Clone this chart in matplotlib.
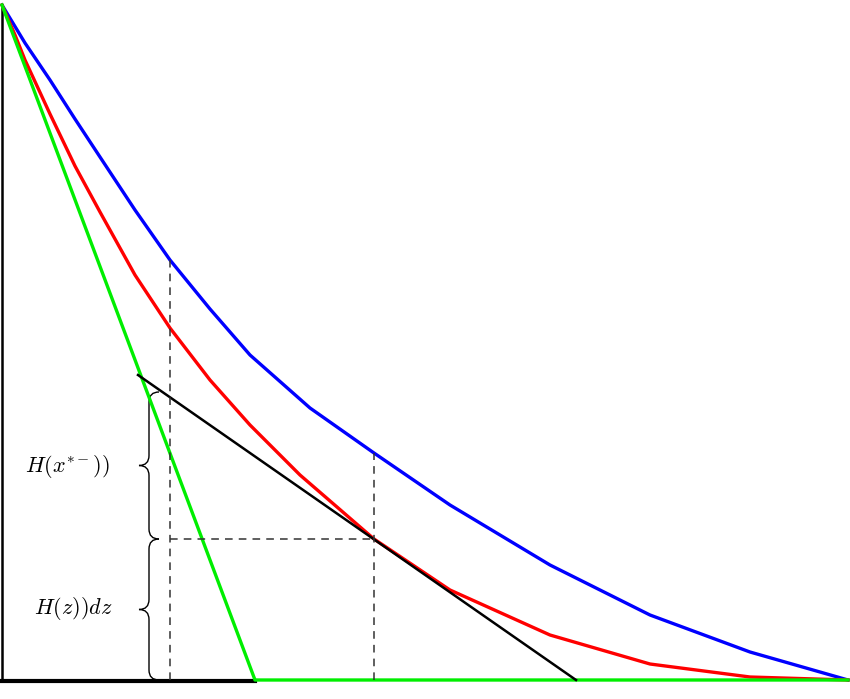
import matplotlib
matplotlib.use("Agg")
import matplotlib.pyplot as plt
from matplotlib.path import Path
from matplotlib.patches import PathPatch

plt.rcParams['mathtext.fontset'] = 'cm'

blue_x = [2, 25, 50, 75, 100, 135, 170, 210, 250, 310, 374, 450, 550, 650, 750, 848]
blue_y = [5, 43, 80, 119, 157, 210, 260, 309, 355, 408, 453, 505, 565, 615, 652, 680]
red_x = [2, 15, 25, 50, 75, 100, 135, 170, 210, 250, 300, 374, 450, 550, 650, 750, 848]
red_y = [5, 35, 60, 114, 166, 212, 275, 328, 380, 425, 475, 539, 590, 635, 664, 677, 680]
green_x = [2, 255, 848]
green_y = [5, 680, 680]
tangent_x = [138, 576]
tangent_y = [375, 680]
labels = [r'$H(x^{*-}))$', r'$H(z))dz$']

fig = plt.figure(figsize=(8.5, 6.99), dpi=100)
ax = fig.add_axes([0, 0, 1, 1])
ax.set_xlim(0, 850)
ax.set_ylim(699, 0)
ax.axis('off')

ax.plot([2, 2], [5, 681], color='black', lw=1.8)
ax.plot([0, 255], [681, 681], color='black', lw=3)
ax.plot(blue_x, blue_y, color='#0000ff', lw=2.4, solid_joinstyle='round')
ax.plot(red_x, red_y, color='#ff0000', lw=2.4, solid_joinstyle='round')
ax.plot(green_x, green_y, color='#00ee00', lw=2.4)
ax.plot(tangent_x, tangent_y, color='black', lw=1.8)

ds = dict(color='#333333', lw=1.1, dashes=(5, 4))
ax.plot([170, 170], [680, 260], **ds)
ax.plot([374, 374], [680, 453], **ds)
ax.plot([170, 374], [539, 539], **ds)

def brace(x, y1, y2, w=10):
    ym = (y1 + y2) / 2
    verts = [(x + w, y1), (x, y1), (x, y1 + w), (x, ym - w), (x, ym), (x - w, ym),
             (x, ym), (x, ym + w), (x, y2 - w), (x, y2), (x + w, y2)]
    codes = [Path.MOVETO, Path.CURVE3, Path.CURVE3, Path.LINETO, Path.CURVE3, Path.CURVE3,
             Path.CURVE3, Path.CURVE3, Path.LINETO, Path.CURVE3, Path.CURVE3]
    ax.add_patch(PathPatch(Path(verts, codes), fill=False, lw=1.0, color='black'))

brace(149, 392, 539)
brace(149, 539, 680)

ax.text(68, 466, labels[0], fontsize=16, ha='center', va='center')
ax.text(73, 609, labels[1], fontsize=16, ha='center', va='center')

fig.savefig('out.png', dpi=100)
